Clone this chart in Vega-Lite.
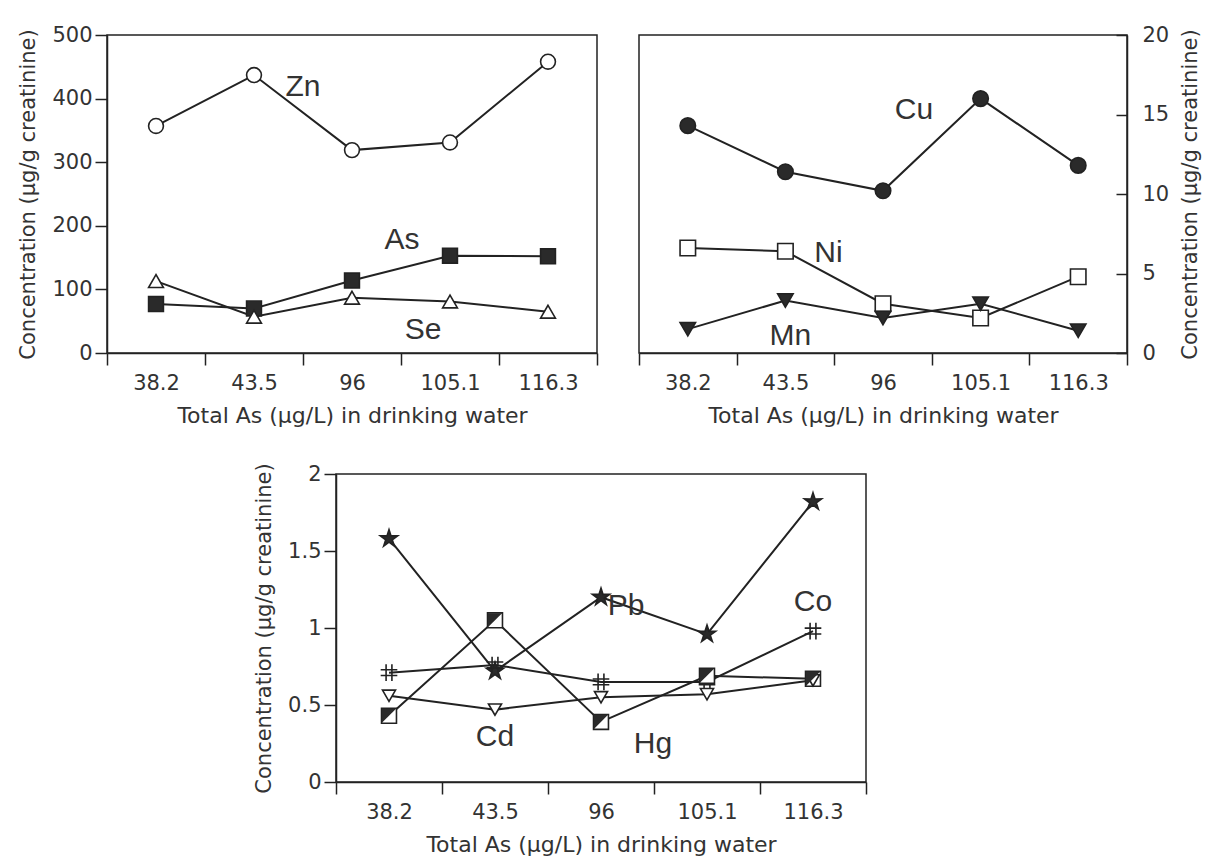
{
  "$schema": "https://vega.github.io/schema/vega-lite/v6.json",
  "background": "white",
  "padding": {"left": 17, "top": 23, "right": 0, "bottom": 5},
  "config": {
    "view": {"stroke": "#222", "strokeWidth": 1.5},
    "font": "DejaVu Sans",
    "axis": {
      "grid": false,
      "domainColor": "#222",
      "domainWidth": 1.5,
      "tickColor": "#222",
      "tickWidth": 1.5,
      "labelColor": "#333",
      "labelFont": "DejaVu Sans",
      "labelFontSize": 21,
      "titleColor": "#333",
      "titleFont": "DejaVu Sans",
      "titleFontSize": 21,
      "titleFontWeight": "normal"
    },
    "axisX": {"labelAngle": 0, "tickSize": 12, "labelPadding": 7, "titlePadding": 12, "tickBand": "extent", "titleFontSize": 22},
    "axisY": {"tickSize": 12, "labelPadding": 3, "titlePadding": 13, "format": "~r"},
    "text": {"font": "Liberation Sans", "fontSize": 30, "color": "#333", "baseline": "middle", "align": "center"}
  },
  "resolve": {"scale": {"shape": "independent", "fill": "independent", "size": "independent"}},
  "datasets": {
    "p1": [
      {"metal": "Zn", "As": "38.2", "value": 357},
      {"metal": "Zn", "As": "43.5", "value": 437},
      {"metal": "Zn", "As": "96", "value": 319},
      {"metal": "Zn", "As": "105.1", "value": 331},
      {"metal": "Zn", "As": "116.3", "value": 458},
      {"metal": "As", "As": "38.2", "value": 77},
      {"metal": "As", "As": "43.5", "value": 70},
      {"metal": "As", "As": "96", "value": 114},
      {"metal": "As", "As": "105.1", "value": 153},
      {"metal": "As", "As": "116.3", "value": 152},
      {"metal": "Se", "As": "38.2", "value": 113},
      {"metal": "Se", "As": "43.5", "value": 57},
      {"metal": "Se", "As": "96", "value": 87},
      {"metal": "Se", "As": "105.1", "value": 81},
      {"metal": "Se", "As": "116.3", "value": 65}
    ],
    "p2": [
      {"metal": "Cu", "As": "38.2", "value": 14.3},
      {"metal": "Cu", "As": "43.5", "value": 11.4},
      {"metal": "Cu", "As": "96", "value": 10.2},
      {"metal": "Cu", "As": "105.1", "value": 16.0},
      {"metal": "Cu", "As": "116.3", "value": 11.8},
      {"metal": "Ni", "As": "38.2", "value": 6.6},
      {"metal": "Ni", "As": "43.5", "value": 6.4},
      {"metal": "Ni", "As": "96", "value": 3.1},
      {"metal": "Ni", "As": "105.1", "value": 2.2},
      {"metal": "Ni", "As": "116.3", "value": 4.8},
      {"metal": "Mn", "As": "38.2", "value": 1.5},
      {"metal": "Mn", "As": "43.5", "value": 3.3},
      {"metal": "Mn", "As": "96", "value": 2.2},
      {"metal": "Mn", "As": "105.1", "value": 3.1},
      {"metal": "Mn", "As": "116.3", "value": 1.4}
    ],
    "p3": [
      {"metal": "Pb", "As": "38.2", "value": 1.58},
      {"metal": "Pb", "As": "43.5", "value": 0.72},
      {"metal": "Pb", "As": "96", "value": 1.2},
      {"metal": "Pb", "As": "105.1", "value": 0.96},
      {"metal": "Pb", "As": "116.3", "value": 1.82},
      {"metal": "Co", "As": "38.2", "value": 0.71},
      {"metal": "Co", "As": "43.5", "value": 0.76},
      {"metal": "Co", "As": "96", "value": 0.65},
      {"metal": "Co", "As": "105.1", "value": 0.65},
      {"metal": "Co", "As": "116.3", "value": 0.98},
      {"metal": "Hg", "As": "38.2", "value": 0.43},
      {"metal": "Hg", "As": "43.5", "value": 1.05},
      {"metal": "Hg", "As": "96", "value": 0.39},
      {"metal": "Hg", "As": "105.1", "value": 0.69},
      {"metal": "Hg", "As": "116.3", "value": 0.67},
      {"metal": "Cd", "As": "38.2", "value": 0.56},
      {"metal": "Cd", "As": "43.5", "value": 0.47},
      {"metal": "Cd", "As": "96", "value": 0.55},
      {"metal": "Cd", "As": "105.1", "value": 0.57},
      {"metal": "Cd", "As": "116.3", "value": 0.66}
    ]
  },
  "spacing": 35,
  "vconcat": [
    {
      "spacing": 38,
      "resolve": {"scale": {"shape": "independent", "fill": "independent", "size": "independent"}},
      "hconcat": [
        {
          "width": 490,
          "height": 318,
          "data": {"name": "p1"},
          "encoding": {
            "x": {"field": "As", "type": "nominal", "scale": {"type": "band", "domain": ["38.2", "43.5", "96", "105.1", "116.3"], "paddingInner": 0, "paddingOuter": 0}, "axis": {"title": "Total As (µg/L) in drinking water"}},
            "y": {"field": "value", "type": "quantitative", "scale": {"domain": [0, 500]}, "axis": {"title": "Concentration (µg/g creatinine)", "values": [0, 100, 200, 300, 400, 500]}}
          },
          "layer": [
            {"mark": {"type": "line", "color": "#222", "strokeWidth": 2}, "encoding": {"detail": {"field": "metal"}}},
            {
              "mark": {"type": "point", "filled": true, "stroke": "#222", "strokeWidth": 1.6, "opacity": 1, "size": 220},
              "encoding": {
                "shape": {"field": "metal", "scale": {"domain": ["Zn", "As", "Se"], "range": ["circle", "square", "triangle-up"]}, "legend": null},
                "fill": {"field": "metal", "scale": {"domain": ["Zn", "As", "Se"], "range": ["white", "#2a2a2a", "white"]}, "legend": null}
              }
            },
            {"data": {"values": [{"label": "Zn", "As": "43.5", "value": 418}]}, "mark": {"type": "text", "dx": 49}, "encoding": {"text": {"field": "label"}}},
            {"data": {"values": [{"label": "As", "As": "96", "value": 178}]}, "mark": {"type": "text", "dx": 50}, "encoding": {"text": {"field": "label"}}},
            {"data": {"values": [{"label": "Se", "As": "96", "value": 36}]}, "mark": {"type": "text", "dx": 71}, "encoding": {"text": {"field": "label"}}}
          ]
        },
        {
          "width": 488,
          "height": 318,
          "data": {"name": "p2"},
          "encoding": {
            "x": {"field": "As", "type": "nominal", "scale": {"type": "band", "domain": ["38.2", "43.5", "96", "105.1", "116.3"], "paddingInner": 0, "paddingOuter": 0}, "axis": {"title": "Total As (µg/L) in drinking water"}},
            "y": {"field": "value", "type": "quantitative", "scale": {"domain": [0, 20]}, "axis": {"orient": "right", "title": "Concentration (µg/g creatinine)", "titleAngle": 270, "values": [0, 5, 10, 15, 20], "tickSize": -11, "labelPadding": 26, "titlePadding": 32}}
          },
          "layer": [
            {"mark": {"type": "line", "color": "#222", "strokeWidth": 2}, "encoding": {"detail": {"field": "metal"}}},
            {
              "mark": {"type": "point", "filled": true, "stroke": "#222", "strokeWidth": 1.6, "opacity": 1, "size": 240},
              "encoding": {
                "shape": {"field": "metal", "scale": {"domain": ["Cu", "Ni", "Mn"], "range": ["circle", "square", "triangle-down"]}, "legend": null},
                "fill": {"field": "metal", "scale": {"domain": ["Cu", "Ni", "Mn"], "range": ["#2a2a2a", "white", "#2a2a2a"]}, "legend": null}
              }
            },
            {"data": {"values": [{"label": "Cu", "As": "96", "value": 15.3}]}, "mark": {"type": "text", "dx": 31}, "encoding": {"text": {"field": "label"}}},
            {"data": {"values": [{"label": "Ni", "As": "43.5", "value": 6.3}]}, "mark": {"type": "text", "dx": 43}, "encoding": {"text": {"field": "label"}}},
            {"data": {"values": [{"label": "Mn", "As": "43.5", "value": 1.07}]}, "mark": {"type": "text", "dx": 5}, "encoding": {"text": {"field": "label"}}}
          ]
        }
      ]
    },
    {
      "spacing": 20,
      "resolve": {"scale": {"shape": "independent", "fill": "independent", "size": "independent"}},
      "hconcat": [
        {
          "width": 125,
          "height": 10,
          "view": {"stroke": null},
          "data": {"values": []},
          "mark": "point",
          "encoding": {}
        },
        {
          "width": 530,
          "height": 308,
          "data": {"name": "p3"},
          "encoding": {
            "x": {"field": "As", "type": "nominal", "scale": {"type": "band", "domain": ["38.2", "43.5", "96", "105.1", "116.3"], "paddingInner": 0, "paddingOuter": 0}, "axis": {"title": "Total As (µg/L) in drinking water"}},
            "y": {"field": "value", "type": "quantitative", "scale": {"domain": [0, 2]}, "axis": {"title": "Concentration (µg/g creatinine)", "values": [0, 0.5, 1, 1.5, 2]}}
          },
          "layer": [
            {"mark": {"type": "line", "color": "#222", "strokeWidth": 2}, "encoding": {"detail": {"field": "metal"}}},
            {
              "mark": {"type": "point", "filled": true, "stroke": "#222", "strokeWidth": 1.6, "opacity": 1},
              "encoding": {
                "shape": {"field": "metal", "scale": {"domain": ["Pb", "Co", "Hg", "Cd"], "range": ["M0,-1L0.2233,-0.3074L0.951,-0.309L0.3614,0.1174L0.588,0.809L0,0.38L-0.588,0.809L-0.3614,0.1174L-0.951,-0.309L-0.2233,-0.3074Z", "M-0.35,-1L-0.35,1M0.35,-1L0.35,1M-1,-0.35L1,-0.35M-1,0.35L1,0.35", "square", "triangle-down"]}, "legend": null},
                "fill": {"field": "metal", "scale": {"domain": ["Pb", "Co", "Hg", "Cd"], "range": ["#2a2a2a", "transparent", "white", "white"]}, "legend": null},
                "size": {"field": "metal", "scale": {"domain": ["Pb", "Co", "Hg", "Cd"], "range": [330, 170, 200, 210]}, "legend": null}
              }
            },
            {
              "transform": [{"filter": "datum.metal === 'Hg'"}],
              "mark": {"type": "point", "shape": "M-1,-1L1,-1L-1,1Z", "filled": true, "fill": "#2a2a2a", "strokeWidth": 0, "opacity": 1, "size": 200}
            },
            {"data": {"values": [{"label": "Pb", "As": "96", "value": 1.14}]}, "mark": {"type": "text", "dx": 25}, "encoding": {"text": {"field": "label"}}},
            {"data": {"values": [{"label": "Co", "As": "116.3", "value": 1.17}]}, "mark": {"type": "text", "dx": 0}, "encoding": {"text": {"field": "label"}}},
            {"data": {"values": [{"label": "Cd", "As": "43.5", "value": 0.29}]}, "mark": {"type": "text", "dx": 0}, "encoding": {"text": {"field": "label"}}},
            {"data": {"values": [{"label": "Hg", "As": "96", "value": 0.25}]}, "mark": {"type": "text", "dx": 52}, "encoding": {"text": {"field": "label"}}}
          ]
        }
      ]
    }
  ]
}
